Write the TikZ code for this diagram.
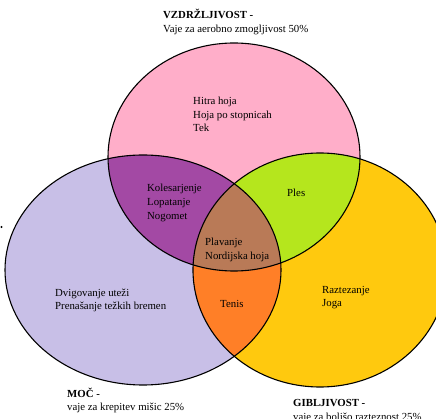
\documentclass[tikz,border=0pt]{standalone}
\usepackage{fontspec}
\setmainfont{Liberation Serif}
\definecolor{cpink}{HTML}{FFAEC9}
\definecolor{clav}{HTML}{C8BFE7}
\definecolor{cpurple}{HTML}{A349A4}
\definecolor{cgreen}{HTML}{B5E61D}
\definecolor{cyellow}{HTML}{FFC90E}
\definecolor{corange}{HTML}{FF7F27}
\definecolor{cbrown}{HTML}{B97A57}
\tikzset{
  lbl/.style={anchor=base west, inner sep=0pt, font=\fontsize{10.8}{13.5}\selectfont},
  ttl/.style={lbl, font=\fontsize{10.8}{13.5}\selectfont\bfseries},
  outline/.style={draw=black, line width=1.1pt}
}
\def\pinkE{(234,157) ellipse [x radius=126pt, y radius=114pt]}
\def\lavE{(143,270) ellipse [x radius=138pt, y radius=115pt]}
\def\yelE{(320,270) ellipse [x radius=127pt, y radius=117pt]}
\begin{document}
\begin{tikzpicture}[x=1pt,y=-1pt]
\useasboundingbox (0,0) rectangle (436,419);
\clip (0,0) rectangle (436,419);
% base fills
\fill[cpink] \pinkE;
\fill[clav] \lavE;
\fill[cyellow] \yelE;
% pairwise intersections
\begin{scope}\clip \lavE; \fill[cpurple] \pinkE; \end{scope}
\begin{scope}\clip \yelE; \fill[cgreen] \pinkE; \end{scope}
\begin{scope}\clip \lavE; \fill[corange] \yelE; \end{scope}
\begin{scope}\clip \lavE; \clip \yelE; \fill[cbrown] \pinkE; \end{scope}
% outlines
\draw[outline] \pinkE;
\draw[outline] \lavE;
\draw[outline] \yelE;
% stray dot
\fill[black] (1.5,227) circle (1.1pt);
% titles
\node[ttl] (t1) at (163,19) {VZDRŽLJIVOST -};
\node[lbl] (t1b) at (163,33) {Vaje za aerobno zmogljivost 50\%};
\node[ttl] (t2) at (67,397) {MOČ -};
\node[lbl] (t2b) at (67,410) {vaje za krepitev mišic 25\%};
\node[ttl] (t3) at (293,406) {GIBLJIVOST -};
\node[lbl] (t3b) at (293,420) {vaje za boljšo razteznost 25\%};
% pink
\node[lbl] (p1) at (193,105) {Hitra hoja};
\node[lbl] (p2) at (193,118.5) {Hoja po stopnicah};
\node[lbl] (p3) at (193,132) {Tek};
% purple
\node[lbl] (u1) at (147,192) {Kolesarjenje};
\node[lbl] (u2) at (147,206) {Lopatanje};
\node[lbl] (u3) at (147,220) {Nogomet};
% green
\node[lbl] (g1) at (287,197) {Ples};
% brown
\node[lbl] (b1) at (205,246) {Plavanje};
\node[lbl] (b2) at (205,260) {Nordijska hoja};
% lavender
\node[lbl] (l1) at (55,297) {Dvigovanje uteži};
\node[lbl] (l2) at (55,310) {Prenašanje težkih bremen};
% orange
\node[lbl] (o1) at (220,308) {Tenis};
% yellow
\node[lbl] (y1) at (322,294) {Raztezanje};
\node[lbl] (y2) at (322,307) {Joga};
\end{tikzpicture}
\end{document}
